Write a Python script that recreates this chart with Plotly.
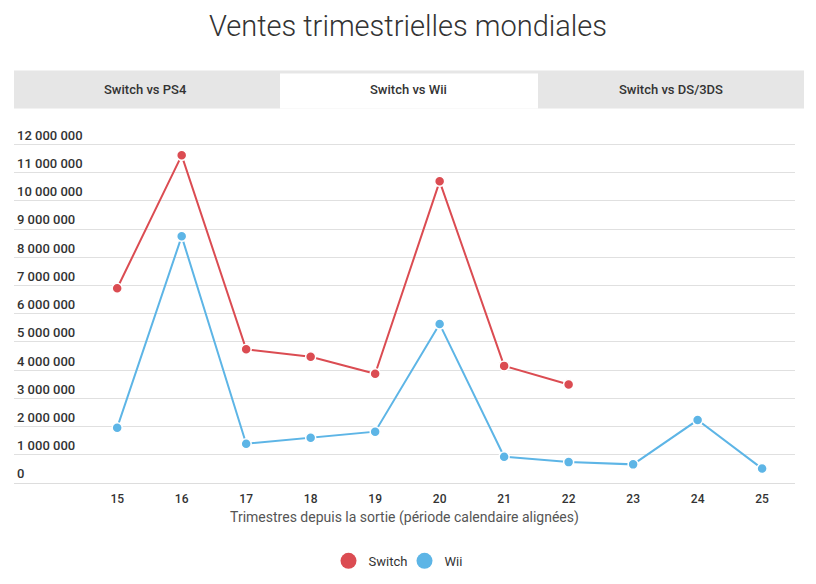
import plotly.graph_objects as go

quarters = [15, 16, 17, 18, 19, 20, 21, 22, 23, 24, 25]
switch_q = [15, 16, 17, 18, 19, 20, 21, 22]
switch_sales = [6900000, 11610000, 4740000, 4470000, 3870000, 10690000, 4150000, 3490000]
wii_sales = [1960000, 8740000, 1390000, 1600000, 1820000, 5630000, 930000, 740000, 660000, 2230000, 510000]
y_ticks = list(range(0, 12000001, 1000000))
tabs = ["Switch vs PS4", "Switch vs Wii", "Switch vs DS/3DS"]

RED = "#db4c52"
BLUE = "#5db5e6"
FONT = "Roboto"

# page offset (body margin) and figure size
OFF = 8
W, H = 816 - 2 * OFF, 584 - 2 * OFF
# plot area in screen coordinates
Y_TOP = 12650000
L, R, B = 14, 795, 483
T = B - (B - 144) * Y_TOP / 12000000


def px(x):
    return (x - L) / (R - L)


def py(y):
    return (B - y) / (B - T)


fig = go.Figure()
fig.add_trace(go.Scatter(
    x=switch_q, y=switch_sales, mode="lines+markers", name="Switch",
    line=dict(color=RED, width=2),
    marker=dict(size=10, color=RED, line=dict(color="white", width=1.5)),
    showlegend=False))
fig.add_trace(go.Scatter(
    x=quarters, y=wii_sales, mode="lines+markers", name="Wii",
    line=dict(color=BLUE, width=2),
    marker=dict(size=10, color=BLUE, line=dict(color="white", width=1.5)),
    showlegend=False))
# legend entries (circles only)
fig.add_trace(go.Scatter(x=[None], y=[None], mode="markers", name="Switch",
                         marker=dict(size=16, color=RED)))
fig.add_trace(go.Scatter(x=[None], y=[None], mode="markers", name="Wii",
                         marker=dict(size=16, color=BLUE)))

ticktext = ["{:,}".format(v).replace(",", " ") for v in y_ticks]

shapes = [
    dict(type="rect", xref="paper", yref="paper",
         x0=px(14), x1=px(804), y0=py(108), y1=py(70),
         fillcolor="#e6e6e6", line=dict(width=0), layer="below"),
    dict(type="rect", xref="paper", yref="paper",
         x0=px(280), x1=px(538), y0=py(108), y1=py(73),
         fillcolor="white", line=dict(width=0), layer="below"),
]
tab_x = [145, 408, 671]
annotations = []
for t, xx in zip(tabs, tab_x):
    annotations.append(dict(
        text=t, x=px(xx), y=py(89), xref="paper", yref="paper",
        showarrow=False, xanchor="center", yanchor="middle",
        font=dict(family=FONT, size=13, color="#333333", weight=500)))

fig.update_layout(
    width=W, height=H,
    margin=dict(l=L - OFF, r=W - (R - OFF), t=T - OFF, b=H - (B - OFF), pad=0,
                autoexpand=False),
    paper_bgcolor="white", plot_bgcolor="white",
    font=dict(family=FONT, color="#333333"),
    title=dict(text="Ventes trimestrielles mondiales", x=0.5, xanchor="center",
               y=1 - (26 - OFF) / H, yanchor="middle",
               font=dict(family=FONT, size=29, color="#333333", weight=300)),
    xaxis=dict(
        range=[13.4, 25.51], tickvals=quarters, ticktext=[str(q) for q in quarters],
        showgrid=False, zeroline=False, showline=True, linecolor="#dddddd", linewidth=1,
        ticks="", ticklabelstandoff=5, automargin=False,
        tickfont=dict(family=FONT, size=12, color="#333333", weight=500),
        title=dict(text="Trimestres depuis la sortie (période calendaire alignées)",
                   font=dict(family=FONT, size=14, color="#555555"), standoff=6),
    ),
    yaxis=dict(
        range=[0, Y_TOP], tickvals=y_ticks, ticktext=ticktext, automargin=False,
        ticklabelposition="inside top", showgrid=True, gridcolor="#e0e0e0", gridwidth=1,
        zeroline=False, showline=False, ticks="",
        tickfont=dict(family=FONT, size=13, color="#333333", weight=500),
    ),
    legend=dict(orientation="h", x=0.5, xanchor="center", y=py(561), yanchor="middle",
                font=dict(family=FONT, size=13, color="#333333"), itemsizing="trace",
                entrywidth=31),
    shapes=shapes, annotations=annotations,
    hovermode=False,
)

fig.write_html("out.html")
